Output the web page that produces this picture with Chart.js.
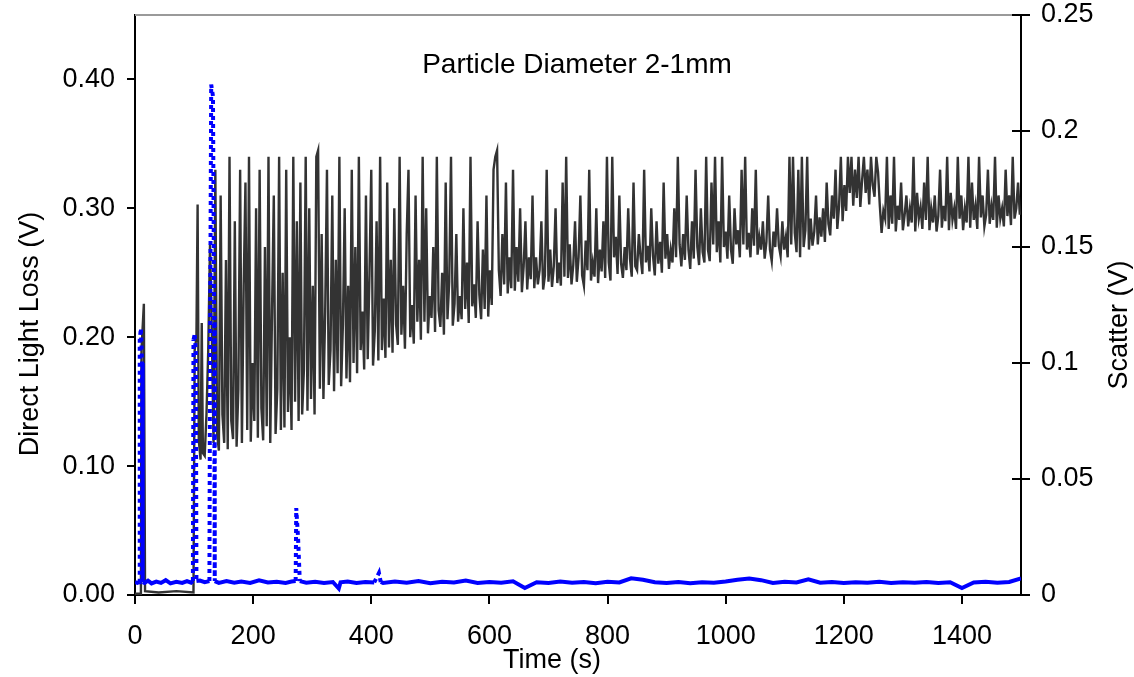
<!DOCTYPE html>
<html>
<head>
<meta charset="utf-8">
<script src="https://cdn.jsdelivr.net/npm/chart.js@4.4.0/dist/chart.umd.min.js"></script>
<style>
  html, body { margin: 0; padding: 0; background: #fff; }
  canvas { display: block; }
</style>
</head>
<body>
<canvas id="chart" width="1134" height="677"></canvas>
<script>
// Direct light loss (left axis), time in s
const lossTimes = [
  0, 10, 11, 15, 17, 40, 70, 99, 101, 104, 106, 108, 111, 113, 115, 118, 121, 124, 127,
  130, 133, 136, 139, 142, 145, 148, 151, 154, 157, 160, 163, 166, 169, 172, 175, 178, 181, 184, 187,
  190, 193, 196, 199, 202, 205, 208, 211, 214, 217, 220, 223, 226, 229, 232, 235, 238, 241, 244, 247,
  250, 253, 256, 259, 262, 265, 268, 271, 274, 277, 280, 283, 286, 289, 292, 295, 298, 301, 304, 307,
  310, 313, 316, 319, 322, 325, 328, 331, 334, 337, 340, 343, 346, 349, 352, 355, 358, 361, 364, 367,
  370, 373, 376, 379, 382, 385, 388, 391, 394, 397, 400, 403, 406, 409, 412, 415, 418, 421, 424, 427,
  430, 433, 436, 439, 442, 445, 448, 451, 454, 457, 460, 463, 466, 469, 472, 475, 478, 481, 484, 487,
  490, 493, 496, 499, 502, 505, 508, 511, 514, 517, 520, 523, 526, 529, 532, 535, 538, 541, 544, 547,
  550, 553, 556, 559, 562, 565, 568, 571, 574, 577, 580, 583, 586, 589, 592, 595, 598, 601, 604, 607,
  610, 613, 616, 619, 622, 625, 628, 631, 634, 637, 640, 643, 646, 649, 652, 655, 658, 661, 664, 667,
  670, 673, 676, 679, 682, 685, 688, 691, 694, 697, 700, 703, 706, 709, 712, 715, 718, 721, 724, 727,
  730, 733, 736, 739, 742, 745, 748, 751, 754, 757, 760, 763, 766, 769, 772, 775, 778, 781, 784, 787,
  790, 793, 796, 799, 802, 805, 808, 811, 814, 817, 820, 823, 826, 829, 832, 835, 838, 841, 844, 847,
  850, 853, 856, 859, 862, 865, 868, 871, 874, 877, 880, 883, 886, 889, 892, 895, 898, 901, 904, 907,
  910, 913, 916, 919, 922, 925, 928, 931, 934, 937, 940, 943, 946, 949, 952, 955, 958, 961, 964, 967,
  970, 973, 976, 979, 982, 985, 988, 991, 994, 997, 1000, 1003, 1006, 1009, 1012, 1015, 1018, 1021, 1024, 1027,
  1030, 1033, 1036, 1039, 1042, 1045, 1048, 1051, 1054, 1057, 1060, 1063, 1066, 1069, 1072, 1075, 1078, 1081, 1084, 1087,
  1090, 1093, 1096, 1099, 1102, 1105, 1108, 1111, 1114, 1117, 1120, 1123, 1126, 1129, 1132, 1135, 1138, 1141, 1144, 1147,
  1150, 1153, 1156, 1159, 1162, 1165, 1168, 1171, 1174, 1177, 1180, 1183, 1186, 1189, 1192, 1195, 1198, 1201, 1204, 1207,
  1210, 1213, 1216, 1219, 1222, 1225, 1228, 1231, 1234, 1237, 1240, 1243, 1246, 1249, 1252, 1255, 1258, 1261, 1264, 1267,
  1270, 1273, 1276, 1279, 1282, 1285, 1288, 1291, 1294, 1297, 1300, 1303, 1306, 1309, 1312, 1315, 1318, 1321, 1324, 1327,
  1330, 1333, 1336, 1339, 1342, 1345, 1348, 1351, 1354, 1357, 1360, 1363, 1366, 1369, 1372, 1375, 1378, 1381, 1384, 1387,
  1390, 1393, 1396, 1399, 1402, 1405, 1408, 1411, 1414, 1417, 1420, 1423, 1426, 1429, 1432, 1435, 1438, 1441, 1444, 1447,
  1450, 1453, 1456, 1459, 1462, 1465, 1468, 1471, 1474, 1477, 1480, 1483, 1486, 1489, 1492, 1495, 1498
];
const lossValues = [
  0.001, 0.001, 0.19, 0.226, 0.003, 0.002, 0.003, 0.002, 0.19, 0.20, 0.303, 0.12, 0.105, 0.211, 0.11, 0.108, 0.14, 0.19, 0.272,
  0.205, 0.118, 0.33, 0.125, 0.112, 0.31, 0.14, 0.118, 0.26, 0.113, 0.34, 0.135, 0.121, 0.29, 0.115, 0.16, 0.33, 0.118, 0.24, 0.32,
  0.128, 0.34, 0.119, 0.18, 0.135, 0.30, 0.122, 0.33, 0.145, 0.12, 0.27, 0.131, 0.34, 0.118, 0.22, 0.31, 0.125, 0.16, 0.34, 0.128,
  0.25, 0.13, 0.33, 0.142, 0.20, 0.128, 0.34, 0.15, 0.29, 0.135, 0.32, 0.14, 0.175, 0.34, 0.143, 0.30, 0.152, 0.24, 0.14, 0.34,
  0.345, 0.16, 0.28, 0.152, 0.22, 0.33, 0.163, 0.19, 0.31, 0.158, 0.26, 0.172, 0.34, 0.162, 0.21, 0.30, 0.168, 0.24, 0.165, 0.33,
  0.18, 0.27, 0.172, 0.34, 0.19, 0.22, 0.175, 0.31, 0.183, 0.25, 0.33, 0.178, 0.205, 0.29, 0.182, 0.34, 0.19, 0.23, 0.184, 0.32,
  0.192, 0.26, 0.188, 0.30, 0.21, 0.194, 0.34, 0.202, 0.24, 0.191, 0.28, 0.33, 0.2, 0.225, 0.195, 0.31, 0.212, 0.26, 0.198, 0.34,
  0.212, 0.30, 0.203, 0.232, 0.215, 0.27, 0.204, 0.34, 0.221, 0.208, 0.25, 0.202, 0.32, 0.214, 0.243, 0.34, 0.209, 0.226, 0.28, 0.212,
  0.232, 0.214, 0.30, 0.222, 0.258, 0.211, 0.34, 0.224, 0.241, 0.215, 0.29, 0.233, 0.214, 0.268, 0.222, 0.31, 0.216, 0.252, 0.225, 0.33,
  0.34, 0.345, 0.252, 0.232, 0.28, 0.241, 0.32, 0.234, 0.262, 0.238, 0.33, 0.236, 0.27, 0.243, 0.30, 0.235, 0.255, 0.29, 0.237, 0.262,
  0.245, 0.31, 0.238, 0.262, 0.241, 0.252, 0.29, 0.237, 0.248, 0.33, 0.243, 0.268, 0.239, 0.255, 0.30, 0.242, 0.258, 0.24, 0.32, 0.247,
  0.34, 0.246, 0.272, 0.241, 0.256, 0.29, 0.243, 0.262, 0.31, 0.248, 0.24, 0.275, 0.252, 0.33, 0.244, 0.258, 0.247, 0.30, 0.242, 0.268,
  0.251, 0.29, 0.246, 0.34, 0.258, 0.244, 0.34, 0.262, 0.278, 0.249, 0.31, 0.257, 0.246, 0.27, 0.252, 0.30, 0.261, 0.247, 0.32, 0.255,
  0.252, 0.28, 0.262, 0.249, 0.33, 0.258, 0.271, 0.251, 0.30, 0.263, 0.248, 0.29, 0.257, 0.274, 0.25, 0.32, 0.261, 0.28, 0.253, 0.268,
  0.258, 0.30, 0.262, 0.34, 0.272, 0.255, 0.28, 0.26, 0.31, 0.268, 0.253, 0.29, 0.261, 0.33, 0.27, 0.256, 0.30, 0.266, 0.258, 0.34,
  0.268, 0.259, 0.32, 0.272, 0.34, 0.266, 0.29, 0.258, 0.34, 0.27, 0.282, 0.261, 0.31, 0.268, 0.257, 0.30, 0.272, 0.283, 0.262, 0.33,
  0.272, 0.34, 0.268, 0.281, 0.262, 0.30, 0.271, 0.33, 0.264, 0.278, 0.268, 0.29, 0.261, 0.274, 0.31, 0.268, 0.259, 0.282, 0.27, 0.30,
  0.271, 0.263, 0.29, 0.268, 0.278, 0.262, 0.34, 0.272, 0.34, 0.281, 0.266, 0.33, 0.262, 0.34, 0.27, 0.283, 0.34, 0.268, 0.292, 0.271,
  0.282, 0.31, 0.272, 0.293, 0.278, 0.30, 0.274, 0.32, 0.288, 0.279, 0.31, 0.292, 0.33, 0.284, 0.302, 0.34, 0.29, 0.318, 0.298, 0.34,
  0.312, 0.34, 0.302, 0.33, 0.308, 0.34, 0.301, 0.322, 0.34, 0.312, 0.33, 0.303, 0.34, 0.318, 0.309, 0.34, 0.328, 0.302, 0.281, 0.298,
  0.292, 0.34, 0.284, 0.31, 0.288, 0.34, 0.282, 0.302, 0.291, 0.32, 0.283, 0.295, 0.31, 0.286, 0.30, 0.289, 0.34, 0.282, 0.312, 0.292,
  0.301, 0.284, 0.32, 0.291, 0.34, 0.283, 0.30, 0.289, 0.31, 0.282, 0.294, 0.33, 0.285, 0.302, 0.29, 0.34, 0.283, 0.312, 0.291, 0.30,
  0.284, 0.34, 0.292, 0.31, 0.283, 0.30, 0.289, 0.34, 0.285, 0.32, 0.291, 0.302, 0.284, 0.34, 0.293, 0.31, 0.286, 0.295, 0.33, 0.288,
  0.302, 0.291, 0.34, 0.285, 0.31, 0.292, 0.30, 0.286, 0.33, 0.294, 0.31, 0.287, 0.34, 0.292, 0.30, 0.32, 0.295
];

// Scatter (right axis)
const scatterTimes = [
  0, 4, 7, 8, 10, 12, 13,
  16, 22, 28, 36, 44, 52, 60, 70, 80, 88, 95,
  98, 99, 101, 103, 104,
  110, 118,
  126, 127, 129, 132, 134, 135,
  142, 155, 168, 180, 195, 210, 225, 240, 255, 265,
  272, 273, 276, 279,
  290, 305, 320, 335, 345, 348, 360, 375, 390, 405,
  413, 416,
  420, 440, 460, 480, 500, 520, 540, 560, 580, 600, 620, 640, 660, 680, 700, 720, 740, 760, 780, 800,
  820, 840, 860, 880, 900, 920, 940, 960, 980, 1000, 1020, 1040, 1060, 1080, 1100, 1120, 1140, 1160, 1180, 1200,
  1220, 1240, 1260, 1280, 1300, 1320, 1340, 1360, 1380, 1400, 1420, 1440, 1460, 1480, 1500
];
const scatterValues = [
  0.0055, 0.0052, 0.0055, 0.11, 0.115, 0.10, 0.0055,
  0.0052, 0.0062, 0.005, 0.0058, 0.0052, 0.0064, 0.005, 0.0057, 0.0052, 0.006, 0.0053,
  0.006, 0.11, 0.112, 0.105, 0.006,
  0.0062, 0.0055,
  0.006, 0.10, 0.22, 0.215, 0.12, 0.006,
  0.0052, 0.006, 0.0053, 0.0058, 0.0052, 0.0063, 0.0054, 0.0057, 0.0052, 0.0058,
  0.006, 0.0375, 0.025, 0.006,
  0.0053, 0.0057, 0.0052, 0.0056, 0.0028, 0.0055, 0.0058, 0.0052, 0.0056, 0.0054,
  0.0095, 0.0056,
  0.0052, 0.0058, 0.0053, 0.006, 0.0051, 0.0057, 0.0054, 0.0062, 0.0052, 0.0056, 0.0053, 0.0059, 0.003, 0.0055, 0.0052, 0.0058, 0.0053, 0.0056, 0.0051, 0.0057,
  0.0054, 0.0072, 0.0066, 0.0055, 0.0052, 0.0056, 0.0051, 0.0055, 0.0053, 0.0058, 0.0066, 0.0071, 0.0064, 0.0052, 0.0057, 0.0054, 0.0068, 0.0053, 0.0056, 0.0052,
  0.0055, 0.0053, 0.0057, 0.0052, 0.0055, 0.0053, 0.0056, 0.0052, 0.0055, 0.003, 0.0054, 0.0057, 0.0053, 0.0056, 0.0072
];

const FONT = "'Liberation Sans', Arial, sans-serif";
const toPoints = (xs, ys) => xs.map((x, i) => ({ x: x, y: ys[i] }));

// frame, inner right ticks and free text
const decorations = {
  id: "decorations",
  afterDraw(chart) {
    const ctx = chart.ctx;
    const area = chart.chartArea;
    const right = chart.scales.y2;
    ctx.save();
    ctx.strokeStyle = "#9a9a9a";
    ctx.lineWidth = 2;
    ctx.beginPath();
    ctx.moveTo(area.left, area.top);
    ctx.lineTo(area.right, area.top);
    ctx.stroke();

    ctx.strokeStyle = "#000";
    right.ticks.forEach((t) => {
      const y = Math.round(right.getPixelForValue(t.value));
      ctx.beginPath();
      ctx.moveTo(area.right - 9, y);
      ctx.lineTo(area.right, y);
      ctx.stroke();
    });

    ctx.fillStyle = "#000";
    ctx.textAlign = "center";
    ctx.textBaseline = "middle";
    ctx.font = "28px " + FONT;
    ctx.fillText("Particle Diameter 2-1mm", 577, 65);
    ctx.font = "27px " + FONT;
    ctx.fillText("Time (s)", 552, 661);

    ctx.save();
    ctx.translate(31, 334);
    ctx.rotate(-Math.PI / 2);
    ctx.fillText("Direct Light Loss (V)", 0, 0);
    ctx.restore();

    ctx.save();
    ctx.translate(1120, 325);
    ctx.rotate(-Math.PI / 2);
    ctx.fillText("Scatter (V)", 0, 0);
    ctx.restore();
    ctx.restore();
  },
};

const tickFont = { family: FONT, size: 27 };

new Chart(document.getElementById("chart"), {
  type: "line",
  data: {
    datasets: [
      {
        label: "Scatter",
        data: toPoints(scatterTimes, scatterValues),
        yAxisID: "y2",
        borderColor: "#0000ff",
        borderWidth: 4,
        borderDash: [],
        pointRadius: 0,
        tension: 0,
        order: 0,
        segment: {
          borderDash: (c) => (Math.abs(c.p0.y - c.p1.y) > 8 ? [4, 4] : undefined),
        },
      },
      {
        label: "Direct Light Loss",
        data: toPoints(lossTimes, lossValues),
        yAxisID: "y",
        borderColor: "#333333",
        borderWidth: 2.4,
        pointRadius: 0,
        tension: 0,
        order: 1,
      },
    ],
  },
  options: {
    responsive: false,
    animation: false,
    devicePixelRatio: 1,
    layout: { padding: { top: 15, left: 0, right: 0, bottom: 0 } },
    plugins: { legend: { display: false }, tooltip: { enabled: false } },
    scales: {
      x: {
        type: "linear",
        min: 0,
        max: 1500,
        ticks: {
          stepSize: 200,
          includeBounds: false,
          font: tickFont,
          color: "#000",
          padding: 16,
          maxRotation: 0,
          autoSkip: false,
          callback: (v) => String(v),
        },
        grid: { drawOnChartArea: false, drawTicks: true, tickLength: 9, color: "#000", lineWidth: 2 },
        border: { display: true, color: "#000", width: 2 },
        afterFit: (s) => { s.height = 82; s.paddingLeft = 0; s.paddingRight = 0; },
      },
      y: {
        position: "left",
        min: 0,
        max: 0.45,
        ticks: {
          stepSize: 0.1,
          includeBounds: false,
          font: tickFont,
          color: "#000",
          padding: 12,
          callback: (v) => v.toFixed(2),
        },
        grid: { drawOnChartArea: false, drawTicks: true, tickLength: 8, color: "#000", lineWidth: 2 },
        border: { display: true, color: "#000", width: 2 },
        afterFit: (s) => { s.width = 135; s.paddingTop = 0; s.paddingBottom = 0; },
      },
      y2: {
        position: "right",
        min: 0,
        max: 0.25,
        ticks: {
          stepSize: 0.05,
          font: tickFont,
          color: "#000",
          padding: 11,
          callback: (v) => String(+v.toFixed(2)),
        },
        grid: { drawOnChartArea: false, drawTicks: true, tickLength: 9, color: "#000", lineWidth: 2 },
        border: { display: true, color: "#000", width: 2 },
        afterFit: (s) => { s.width = 113; s.paddingTop = 0; s.paddingBottom = 0; },
      },
    },
  },
  plugins: [decorations],
});
</script>
</body>
</html>
